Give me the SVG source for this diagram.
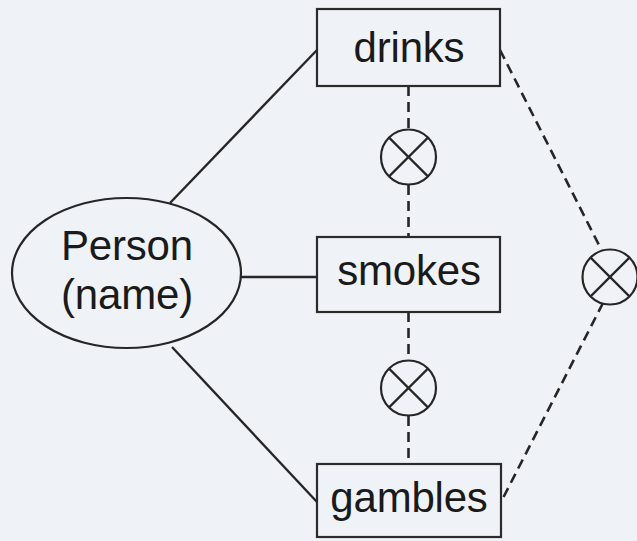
<svg xmlns="http://www.w3.org/2000/svg" width="637" height="541" viewBox="0 0 637 541">
  <style>
    .shape { fill: none; stroke: #262626; stroke-width: 2.2; }
    .box { fill: none; stroke: #2b2b2b; stroke-width: 2.2; }
    .solid { stroke: #262626; stroke-width: 2.4; fill: none; }
    .dashed { stroke: #262626; stroke-width: 2.6; fill: none; stroke-dasharray: 10 6; }
    .label { font-family: "Liberation Sans", Arial, sans-serif; font-size: 42px; fill: #1a1a1a; text-anchor: middle; letter-spacing: -0.2px; }
    .xor { fill: none; stroke: #262626; stroke-width: 2.2; }
  </style>
  <defs>
    <g id="xor-symbol">
      <circle class="xor" cx="0" cy="0" r="27.5"/>
      <line class="xor" x1="-19.4" y1="-19.4" x2="19.4" y2="19.4"/>
      <line class="xor" x1="-19.4" y1="19.4" x2="19.4" y2="-19.4"/>
    </g>
  </defs>

  <rect x="0" y="0" width="637" height="541" fill="#eff3f7"/>

  <!-- connectors -->
  <g id="connectors">
    <line class="solid" x1="170" y1="203" x2="317" y2="50"/>
    <line class="solid" x1="241" y1="277" x2="317" y2="277"/>
    <line class="solid" x1="172" y1="347" x2="317" y2="502"/>

    <line class="dashed" x1="408.5" y1="86" x2="408.5" y2="129"/>
    <line class="dashed" x1="408.5" y1="185" x2="408.5" y2="237"/>
    <line class="dashed" x1="408.5" y1="312" x2="408.5" y2="360"/>
    <line class="dashed" x1="408.5" y1="416" x2="408.5" y2="464"/>

    <line class="dashed" x1="500" y1="50" x2="602" y2="251"/>
    <line class="dashed" x1="603" y1="303" x2="501" y2="502"/>
  </g>

  <!-- exclusion symbols -->
  <g id="xor-drinks-smokes"><use href="#xor-symbol" x="408.5" y="157"/></g>
  <g id="xor-smokes-gambles"><use href="#xor-symbol" x="408.5" y="388"/></g>
  <g id="xor-drinks-gambles"><use href="#xor-symbol" x="610" y="277"/></g>

  <!-- entity -->
  <g id="person">
    <ellipse class="shape" cx="126.5" cy="273" rx="114.5" ry="75"/>
    <text class="label" x="127" y="260">Person</text>
    <text class="label" x="127" y="309">(name)</text>
  </g>

  <!-- relationships -->
  <g id="drinks">
    <rect class="box" x="317" y="9" width="183" height="77"/>
    <text class="label" x="409" y="62">drinks</text>
  </g>
  <g id="smokes">
    <rect class="box" x="317" y="237" width="183" height="75"/>
    <text class="label" x="409" y="285">smokes</text>
  </g>
  <g id="gambles">
    <rect class="box" x="317" y="464" width="184" height="73"/>
    <text class="label" x="409" y="512">gambles</text>
  </g>
</svg>
